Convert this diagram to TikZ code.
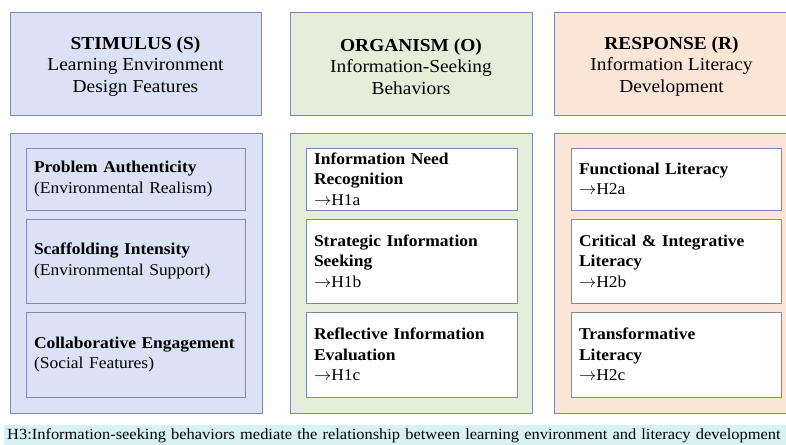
\documentclass[tikz,border=0pt]{standalone}
\usepackage{fontspec}
\setmainfont{Liberation Serif}[FakeStretch=1.06]
\usetikzlibrary{positioning}

\definecolor{edgeblue}{RGB}{125,138,176}
\definecolor{stimfill}{RGB}{219,226,245}
\definecolor{orgfill}{RGB}{227,239,218}
\definecolor{respfill}{RGB}{251,229,215}
\definecolor{barfill}{RGB}{215,242,243}

\newcommand{\hyp}[1]{$\rightarrow$H#1}

\begin{document}
\begin{tikzpicture}[x=1pt, y=-1pt,
    hdr/.style={draw=edgeblue, line width=1pt, minimum height=102pt},
    hdrtext/.style={align=center, font=\fontsize{18.3}{21.5}\selectfont},
    panel/.style={draw=edgeblue, line width=1pt, minimum height=280pt},
    item/.style={draw=edgeblue, line width=1pt, inner xsep=8pt, align=left,
        font=\fontsize{16.5}{20.5}\selectfont}]

    \useasboundingbox (0,0) rectangle (786,444);

    % headers
    \node[hdr, fill=stimfill, minimum width=251pt] (stimhdr) at (135.5,64) {};
    \node[hdr, fill=orgfill, minimum width=242pt] (orghdr) at (411,64) {};
    \node[hdr, fill=respfill, minimum width=235pt] (resphdr) at (671.5,64) {};

    \node[hdrtext] (stimtitle) at ([yshift=-2.5pt]stimhdr.center)
        {\textbf{STIMULUS (S)}\\Learning Environment\\Design Features};
    \node[hdrtext] (orgtitle) at ([yshift=-2.5pt]orghdr.center)
        {\textbf{ORGANISM (O)}\\Information-Seeking\\Behaviors};
    \node[hdrtext] (resptitle) at ([yshift=-2.5pt]resphdr.center)
        {\textbf{RESPONSE (R)}\\Information Literacy\\Development};

    % panels
    \node[panel, fill=stimfill, minimum width=252pt] (stimpanel) at (136,273) {};
    \node[panel, fill=orgfill, minimum width=242pt] (orgpanel) at (411,273) {};
    \node[panel, fill=respfill, minimum width=235pt] (resppanel) at (671.5,273) {};

    % stimulus items
    \node[item, fill=stimfill, text width=203pt, minimum height=62pt] (s1) at (135.5,179)
        {\textbf{Problem Authenticity}\\(Environmental Realism)};
    \node[item, fill=stimfill, text width=203pt, minimum height=84pt] (s2) at (135.5,261)
        {\textbf{Scaffolding Intensity}\\(Environmental Support)};
    \node[item, fill=stimfill, text width=203pt, minimum height=85pt] (s3) at (135.5,354.5)
        {\textbf{Collaborative Engagement}\\(Social Features)};

    % organism items
    \node[item, fill=white, text width=195pt, minimum height=62pt] (o1) at (411.5,179)
        {\textbf{Information Need}\\\textbf{Recognition}\\\hyp{1a}};
    \node[item, fill=white, text width=195pt, minimum height=84pt] (o2) at (411.5,261)
        {\textbf{Strategic Information}\\\textbf{Seeking}\\\hyp{1b}};
    \node[item, fill=white, text width=195pt, minimum height=85pt] (o3) at (411.5,354.5)
        {\textbf{Reflective Information}\\\textbf{Evaluation}\\\hyp{1c}};

    % response items
    \node[item, fill=white, text width=194pt, minimum height=62pt] (r1) at (676,179)
        {\textbf{Functional Literacy}\\\hyp{2a}};
    \node[item, fill=white, text width=194pt, minimum height=84pt] (r2) at (676,261)
        {\textbf{Critical \& Integrative}\\\textbf{Literacy}\\\hyp{2b}};
    \node[item, fill=white, text width=194pt, minimum height=85pt] (r3) at (676,354.5)
        {\textbf{Transformative}\\\textbf{Literacy}\\\hyp{2c}};

    % mediation bar
    \node[fill=barfill, minimum width=782pt, minimum height=19pt, anchor=north west,
        inner xsep=3pt, text width=776pt, align=left, font=\fontsize{15.5}{18}\selectfont] (h3) at (4,425)
        {H3:Information-seeking behaviors mediate the relationship between learning environment and literacy development};

\end{tikzpicture}
\end{document}
